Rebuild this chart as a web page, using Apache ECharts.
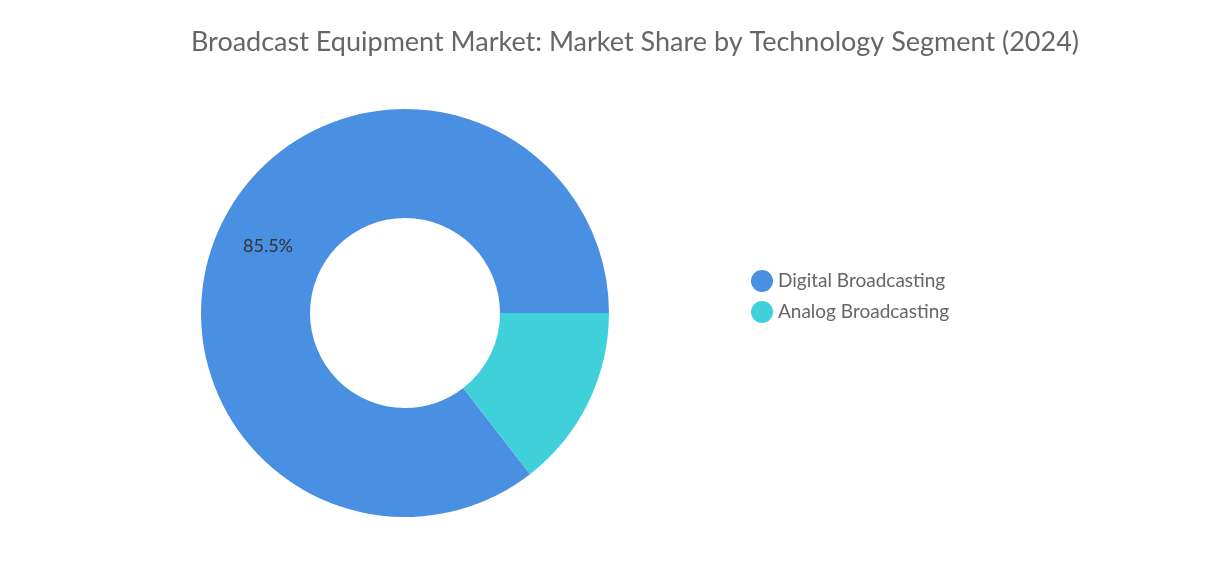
<!DOCTYPE html>
<html><head><meta charset="utf-8">
<script src="https://cdn.jsdelivr.net/npm/echarts@6/dist/echarts.min.js"></script>
<style>html,body{margin:0;padding:0;background:#fff}#c{width:1225px;height:562px}</style>
</head><body><div id="c"></div>
<script>
const categories = ["Digital Broadcasting", "Analog Broadcasting"];
const values = [85.5, 14.5];
const colors = ["#4a90e2", "#40d0da"];
const chart = echarts.init(document.getElementById('c'));
chart.setOption({
  animation: false,
  textStyle: { fontFamily: 'Lato' },
  title: { text: 'Broadcast Equipment Market: Market Share by Technology Segment (2024)', left: 630, textAlign: 'center', top: 24,
    textStyle: { fontFamily: 'Lato', fontSize: 27, fontWeight: 'normal', color: '#666' } },
  legend: { orient: 'vertical', left: 746, top: 265, icon: 'circle', itemWidth: 22, itemHeight: 22, itemGap: 9,
    textStyle: { fontFamily: 'Lato', fontSize: 19, color: '#666' }, data: categories },
  series: [{
    type: 'pie', center: [405, 313], radius: [95, 204], startAngle: 307.8, clockwise: true,
    label: { show: true, position: 'inside', fontFamily: 'Lato', fontSize: 18, color: '#333',
      formatter: p => p.dataIndex === 0 ? p.value + '%' : '' },
    labelLine: { show: false },
    data: categories.map((n, i) => ({ name: n, value: values[i], itemStyle: { color: colors[i] } }))
  }]
});
</script></body></html>
